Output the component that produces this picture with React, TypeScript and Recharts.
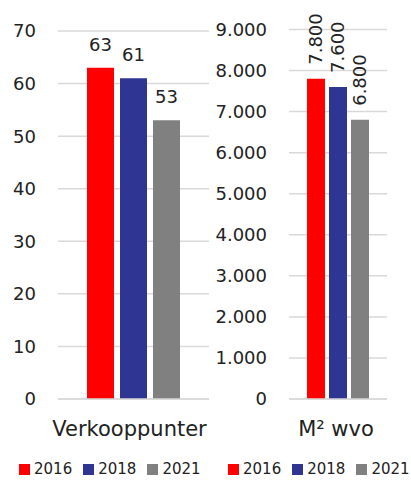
import React from 'react';
import { BarChart, Bar, XAxis, YAxis, CartesianGrid, Legend, LabelList } from 'recharts';

const years = ['2016', '2018', '2021'];
const yearColors = ['#FF0000', '#2E3592', '#808080'];

const verkooppunten = [63, 61, 53];
const wvo = [7800, 7600, 6800];

const verkooppuntenTicks = [0, 10, 20, 30, 40, 50, 60, 70];
const wvoTicks = [0, 1000, 2000, 3000, 4000, 5000, 6000, 7000, 8000, 9000];

const TEXT = '#222222';
const GRID = '#D9D9D9';

// 9000 -> "9.000"
const formatNL = (v: number) => String(v).replace(/\B(?=(\d{3})+(?!\d))/g, '.');

const buildRow = (name: string, values: number[]) => {
  const row: Record<string, string | number> = { name };
  years.forEach((y, i) => {
    row['y' + y] = values[i];
  });
  return row;
};

const leftData = [buildRow('Verkooppunter', verkooppunten)];
const rightData = [buildRow('M² wvo', wvo)];

// square swatch + year, all on one line
const YearLegend = ({ payload }: any) => (
  <div style={{ display: 'flex', whiteSpace: 'nowrap', fontSize: 15, lineHeight: '21px', color: TEXT }}>
    {(payload || []).map((entry: any) => (
      <span key={entry.value} style={{ display: 'inline-flex', alignItems: 'center', marginRight: 11 }}>
        <span style={{ display: 'inline-block', width: 11, height: 11, background: entry.color, marginRight: 4 }} />
        {entry.value}
      </span>
    ))}
  </div>
);

// value written upwards above the bar
const VerticalLabel = (props: any) => {
  const { x, y, width, value } = props;
  const cx = Number(x) + Number(width) / 2;
  const ty = Number(y) - 14;
  return (
    <text
      x={cx}
      y={ty}
      transform={`rotate(-90 ${cx} ${ty})`}
      textAnchor="start"
      dominantBaseline="central"
      fill={TEXT}
      fontSize={18}
    >
      {formatNL(value)}
    </text>
  );
};

export default function App() {
  return (
    <div
      style={{
        position: 'absolute',
        left: 0,
        top: 0,
        width: 411,
        height: 480,
        overflow: 'hidden',
        background: '#fff',
        fontFamily: '"DejaVu Sans", sans-serif',
      }}
    >
      <div style={{ position: 'absolute', left: 0, top: 0 }}>
        <BarChart
          width={212}
          height={480}
          data={leftData}
          margin={{ top: 31, right: 3, bottom: 31, left: 0 }}
          barSize={27}
          barGap={6}
        >
          <CartesianGrid vertical={false} stroke={GRID} strokeWidth={1.5} />
          <XAxis
            dataKey="name"
            height={50}
            axisLine={{ stroke: GRID, strokeWidth: 1.5 }}
            tickLine={false}
            tickSize={0}
            tickMargin={22}
            tick={{ fill: TEXT, fontSize: 21, dx: -4 }}
          />
          <YAxis
            width={58}
            domain={[0, 70]}
            ticks={verkooppuntenTicks}
            interval={0}
            axisLine={false}
            tickLine={false}
            tickSize={0}
            tickMargin={22}
            tick={{ fill: TEXT, fontSize: 18 }}
          />
          <Legend
            layout="horizontal"
            verticalAlign="middle"
            align="center"
            content={YearLegend}
            wrapperStyle={{ left: 19, top: 459, width: 190 }}
          />
          {years.map((y, i) => (
            <Bar key={y} dataKey={'y' + y} name={y} fill={yearColors[i]} isAnimationActive={false}>
              <LabelList dataKey={'y' + y} position="top" offset={17} fill={TEXT} fontSize={18} />
            </Bar>
          ))}
        </BarChart>
      </div>
      <div style={{ position: 'absolute', left: 212, top: 0 }}>
        <BarChart
          width={199}
          height={480}
          data={rightData}
          margin={{ top: 29.5, right: 24, bottom: 31, left: 0 }}
          barSize={18}
          barGap={4}
        >
          <CartesianGrid vertical={false} stroke={GRID} strokeWidth={1.5} />
          <XAxis
            dataKey="name"
            height={50}
            axisLine={{ stroke: GRID, strokeWidth: 1.5 }}
            tickLine={false}
            tickSize={0}
            tickMargin={22}
            tick={{ fill: TEXT, fontSize: 21, dx: -2 }}
          />
          <YAxis
            width={77}
            domain={[0, 9000]}
            ticks={wvoTicks}
            interval={0}
            tickFormatter={formatNL}
            axisLine={false}
            tickLine={false}
            tickSize={0}
            tickMargin={22}
            tick={{ fill: TEXT, fontSize: 18 }}
          />
          <Legend
            layout="horizontal"
            verticalAlign="middle"
            align="center"
            content={YearLegend}
            wrapperStyle={{ left: 16, top: 459, width: 185 }}
          />
          {years.map((y, i) => (
            <Bar key={y} dataKey={'y' + y} name={y} fill={yearColors[i]} isAnimationActive={false}>
              <LabelList dataKey={'y' + y} content={VerticalLabel} />
            </Bar>
          ))}
        </BarChart>
      </div>
    </div>
  );
}
